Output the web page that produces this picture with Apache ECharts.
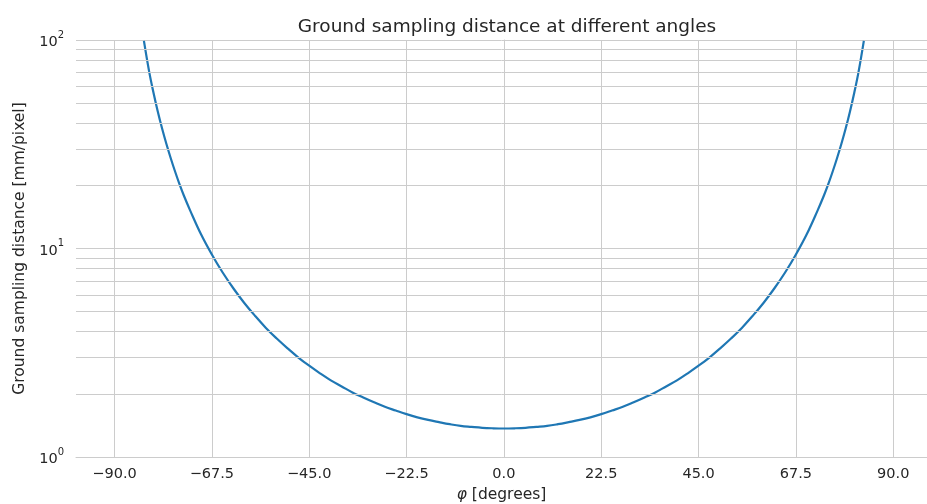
<!DOCTYPE html>
<html>
<head>
<meta charset="utf-8">
<script src="https://cdn.jsdelivr.net/npm/echarts@6/dist/echarts.min.js"></script>
<style>
  html, body { margin: 0; padding: 0; background: #fff; }
  #gsd { width: 927px; height: 504px; }
</style>
</head>
<body>
<div id="gsd"></div>
<script>
// angles (degrees) and GSD values (mm/pixel)
var angles = [-83.2, -82, -81, -80, -79, -78, -77, -76, -75, -74, -72.5, -70, -67.5, -65, -62.5, -60, -57.5, -55, -52.5, -50, -47.5, -45, -42.5, -40,
              -37.5, -35, -32.5, -30, -27.5, -25, -22.5, -20, -17.5, -15, -12.5, -10, -7.5, -5, -2.5,
              0,
              2.5, 5, 7.5, 10, 12.5, 15, 17.5, 20, 22.5, 25, 27.5, 30, 32.5, 35, 37.5,
              40, 42.5, 45, 47.5, 50, 52.5, 55, 57.5, 60, 62.5, 65, 67.5, 70, 72.5, 74, 75, 76, 77, 78, 79, 80, 81, 82, 83.2];
var gsd = [99, 70.7, 56.0, 45.4, 37.6, 31.7, 27.1, 23.4, 20.4, 18.0, 15.2, 11.7, 9.36, 7.67, 6.43, 5.48, 4.75, 4.16, 3.70, 3.32, 3.00, 2.74, 2.52, 2.33,
           2.18, 2.04, 1.93, 1.83, 1.74, 1.67, 1.605, 1.55, 1.506, 1.47, 1.437, 1.41, 1.394, 1.38, 1.373,
           1.37,
           1.373, 1.38, 1.394, 1.41, 1.437, 1.47, 1.506, 1.55, 1.605, 1.67, 1.74, 1.83, 1.93, 2.04, 2.18,
           2.33, 2.52, 2.74, 3.00, 3.32, 3.70, 4.16, 4.75, 5.48, 6.43, 7.67, 9.36, 11.7, 15.2, 18.0, 20.4, 23.4, 27.1, 31.7, 37.6, 45.4, 56.0, 70.7, 99];
var xTicks = [-90, -67.5, -45, -22.5, 0, 22.5, 45, 67.5, 90];
var minorY = [2, 3, 4, 5, 6, 7, 8, 9, 20, 30, 40, 50, 60, 70, 80, 90];

var textColor = '#262626';
var gridColor = '#cccccc';

var chart = echarts.init(document.getElementById('gsd'));
var option = {
    animation: false,
    textStyle: { fontFamily: 'DejaVu Sans' },
    title: {
        text: 'Ground sampling distance at different angles',
        left: 502,
        textAlign: 'center',
        top: 13,
        textStyle: { fontSize: 18.5, fontWeight: 'normal', color: textColor, fontFamily: 'DejaVu Sans' }
    },
    grid: { left: 76, right: 0, top: 40, bottom: 47, containLabel: false, outerBoundsMode: 'none' },
    xAxis: {
        type: 'value',
        min: -98.9,
        max: 97.8,
        name: '{i|φ} [degrees]',
        nameLocation: 'middle',
        nameGap: 30,
        nameTextStyle: {
            fontSize: 15.5, color: textColor,
            rich: { i: { fontSize: 15.5, fontStyle: 'italic', color: textColor } }
        },
        axisLine: { show: true, lineStyle: { color: gridColor, width: 1 } },
        axisTick: { show: false, customValues: xTicks },
        axisLabel: {
            customValues: xTicks,
            fontSize: 14.5, color: textColor, margin: 10,
            formatter: function (v) { return (v < 0 ? '\u2212' : '') + Math.abs(v).toFixed(1); }
        },
        splitLine: { show: true, lineStyle: { color: gridColor, width: 1 } }
    },
    yAxis: {
        type: 'log',
        logBase: 10,
        min: 1,
        max: 100,
        name: 'Ground sampling distance [mm/pixel]',
        nameLocation: 'middle',
        nameGap: 41,
        nameTextStyle: { fontSize: 15.5, color: textColor },
        axisLine: { show: true, lineStyle: { color: gridColor, width: 1 } },
        axisTick: { show: false },
        axisLabel: {
            fontSize: 14.5, color: textColor, margin: 12,
            formatter: function (v) {
                return '{b|10}{s|' + Math.round(Math.log10(v)) + '}';
            },
            rich: {
                b: { fontSize: 14.5, color: textColor, lineHeight: 20, verticalAlign: 'bottom' },
                s: { fontSize: 10, color: textColor, lineHeight: 12, verticalAlign: 'top' }
            }
        },
        splitLine: { show: true, lineStyle: { color: gridColor, width: 1 } }
    },
    series: [
        {
            type: 'line',
            data: [],
            z: 1,
            silent: true,
            markLine: {
                silent: true,
                symbol: ['none', 'none'],
                label: { show: false },
                lineStyle: { color: gridColor, type: 'solid', width: 1 },
                data: minorY.map(function (v) { return { yAxis: v }; })
            }
        },
        {
            name: 'GSD',
            type: 'line',
            z: 3,
            smooth: 0.4,
            showSymbol: false,
            lineStyle: { color: '#1f77b4', width: 2.2 },
            itemStyle: { color: '#1f77b4' },
            data: angles.map(function (a, i) { return [a, gsd[i]]; })
        }
    ]
};
chart.setOption(option);
</script>
</body>
</html>
